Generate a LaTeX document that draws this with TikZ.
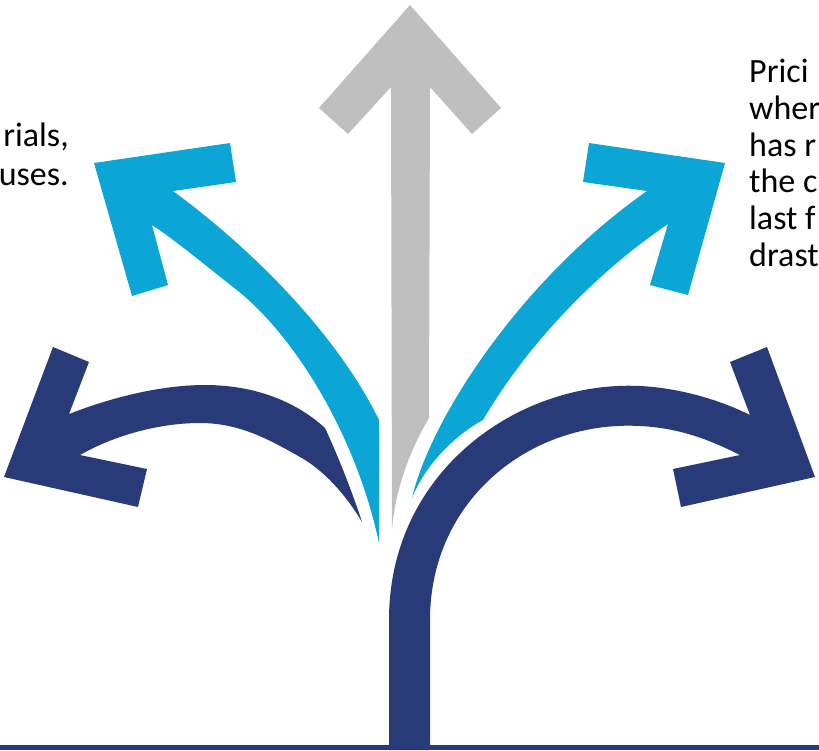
\documentclass[tikz,border=0pt]{standalone}
\usepackage{fontspec}
\setmainfont{Carlito}
\definecolor{navy}{HTML}{283A78}
\definecolor{sky}{HTML}{0BA6D5}
\definecolor{silver}{HTML}{BFBFBF}
\begin{document}
\begin{tikzpicture}[x=1pt,y=-1pt,
  txt/.style={font=\fontsize{34}{37}\selectfont, inner sep=0pt, text=black},
  navyfill/.style={fill=navy},
  skyfill/.style={fill=sky},
  greyfill/.style={fill=silver}]
\useasboundingbox (0,0) rectangle (819,750);
\clip (0,0) rectangle (819,750);

% base line
\fill[navyfill] (0,745) rectangle (819,750);

% grey arrow (up)
\fill[greyfill] (410,5) -- (501,108) -- (472,134) -- (430,87) -- (429,418)
  .. controls (410,450) and (395,490) .. (392,530) -- (391,87) -- (348,134) -- (319,108) -- cycle;

% left light-blue arrow
\fill[skyfill] (94,163) -- (230,143) -- (236,182) -- (173,191)
  .. controls (260,255) and (340,340) .. (379,420) -- (379,543)
  .. controls (355,430) and (290,330) .. (233,287)
  .. controls (205,265) and (175,240) .. (152,225)
  -- (168,285) -- (132,296) -- cycle;

% right light-blue arrow
\fill[skyfill] (725,163) -- (688,295) -- (650,285) -- (668,224)
  .. controls (600,270) and (530,340) .. (483,420)
  .. controls (455,435) and (425,465) .. (412,498)
  .. controls (430,420) and (520,280) .. (647,191)
  -- (583,182) -- (589,143) -- cycle;

% left dark arrow
\fill[navyfill] (4,477) -- (53,347) -- (89,362) -- (69,414)
  .. controls (110,398) and (160,385) .. (205,385)
  .. controls (260,385) and (300,405) .. (325,428)
  .. controls (340,460) and (355,500) .. (362,522)
  .. controls (340,485) and (315,465) .. (300,457)
  .. controls (270,440) and (240,423) .. (200,423)
  .. controls (160,423) and (115,435) .. (80,455)
  -- (147,469) -- (138,507) -- cycle;

% right dark arrow with stem
\fill[navyfill] (389,750) -- (389,620)
  .. controls (389,470) and (520,380) .. (640,386)
  .. controls (680,388) and (720,400) .. (750,415)
  -- (730,362) -- (767,347) -- (815,477) -- (681,507) -- (673,469) -- (740,455)
  .. controls (710,440) and (680,428) .. (640,426)
  .. controls (530,420) and (430,500) .. (430,620)
  -- (430,750) -- cycle;

% left text (cut by the border)
\node[txt, anchor=base east] (l1) at (69,146) {rials,};
\node[txt, anchor=base east] (l2) at (69,185) {uses.};

% right text (cut by the border)
\node[txt, anchor=base west] (r1) at (749,82) {Prici};
\node[txt, anchor=base west] (r2) at (749,119) {wher};
\node[txt, anchor=base west] (r3) at (749,156) {has r};
\node[txt, anchor=base west] (r4) at (749,192.5) {the c};
\node[txt, anchor=base west] (r5) at (749,229) {last f};
\node[txt, anchor=base west] (r6) at (749,266) {drast};
\end{tikzpicture}
\end{document}
